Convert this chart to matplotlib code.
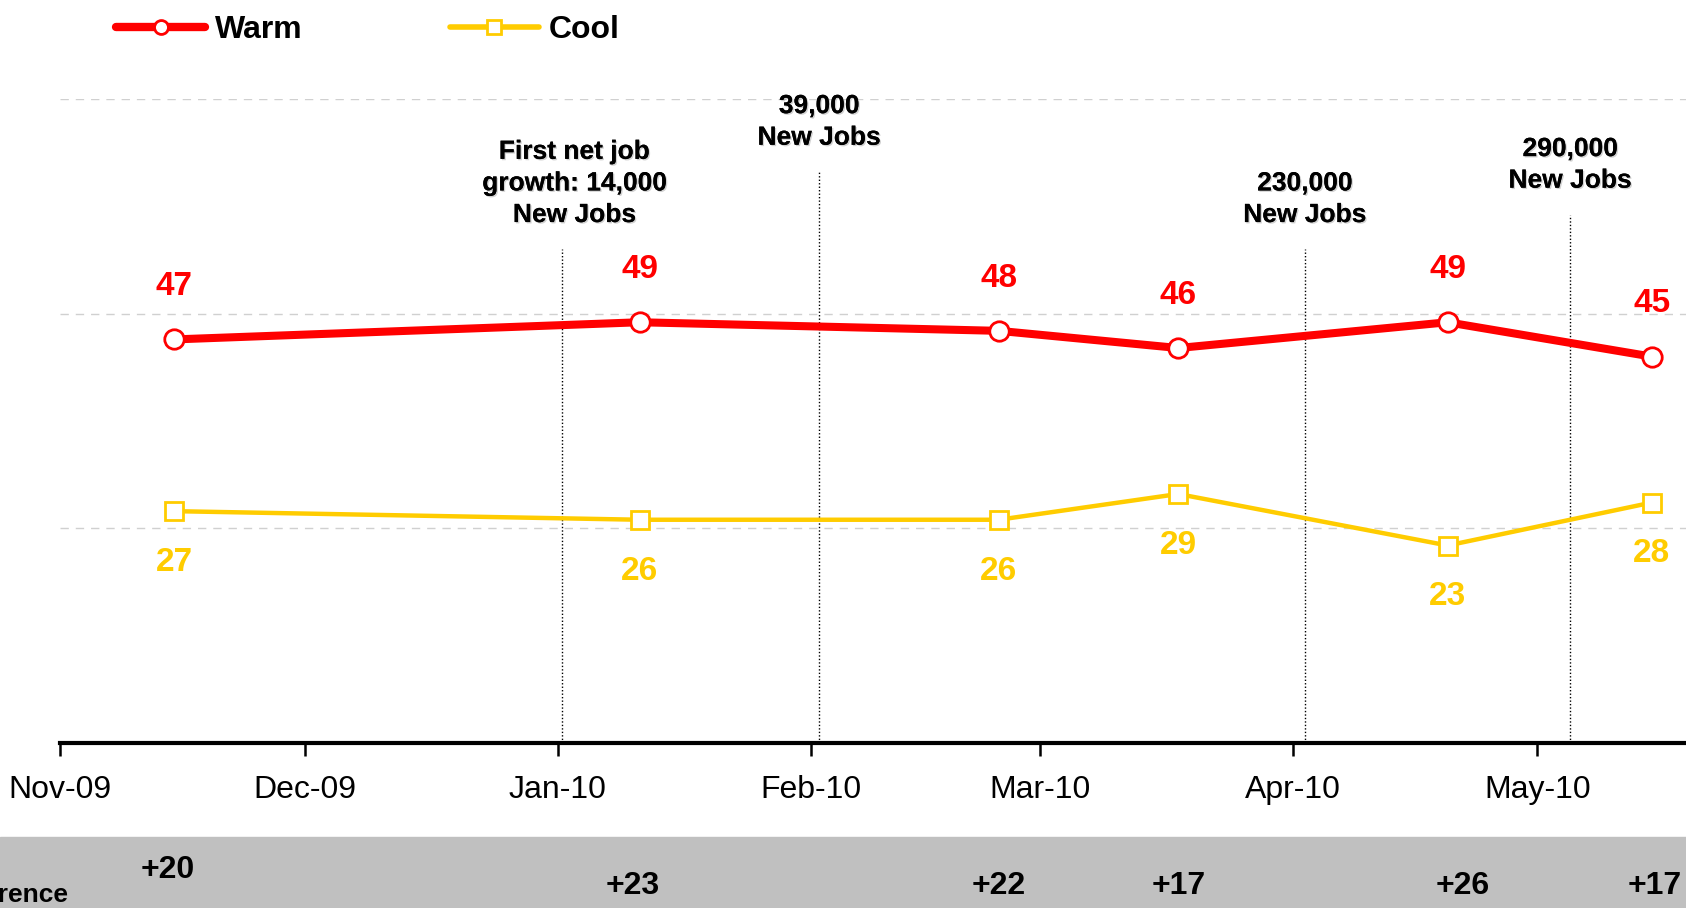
"""Warm vs cool ratings across the 2009-10 jobs reports."""

import matplotlib

matplotlib.use("Agg")
import matplotlib.dates as mdates
import matplotlib.patheffects as pe
import matplotlib.pyplot as plt
import matplotlib.transforms as mtransforms
import numpy as np
from matplotlib.lines import Line2D
from matplotlib.patches import Rectangle

survey_dates = np.array(
    ["2009-11-15", "2010-01-11", "2010-02-24", "2010-03-18", "2010-04-20", "2010-05-15"],
    dtype="datetime64[D]",
)
warm = [47, 49, 48, 46, 49, 45]
cool = [27, 26, 26, 29, 23, 28]
difference = ["+20", "+23", "+22", "+17", "+26", "+17"]

event_dates = np.array(
    ["2010-01-01T12", "2010-02-02", "2010-04-02T12", "2010-05-05"], dtype="datetime64[h]"
)
event_labels = [
    "First net job\ngrowth: 14,000\nNew Jobs",
    "39,000\nNew Jobs",
    "230,000\nNew Jobs",
    "290,000\nNew Jobs",
]

RED = "#FF0000"
YELLOW = "#FFCC00"
SANS = ["Liberation Sans", "DejaVu Sans"]

# layout (not data): how far each dotted line rises, text x-shift in points
event_tops = [57.5, 66.5, 57.5, 61.5]
event_dx = [9, 0, 0, 0]
diff_dx = [-5, -5, 0, 0, 11, 2]

W, H = 1686, 908
fig = plt.figure(figsize=(W / 100, H / 100), dpi=100)
ax = fig.add_axes([60 / W, 165 / H, 1 - 60 / W, 644 / H])

# grey band holding the difference row
fig.patches.append(
    Rectangle((0, 0), 1, 71 / H, transform=fig.transFigure, color="#C0C0C0", zorder=0)
)

x0 = mdates.date2num(np.datetime64("2009-11-01"))
ax.set_xlim(x0, x0 + 199.2)
ax.set_ylim(0, 75)

ax.set_yticks([25, 50, 75])
ax.yaxis.grid(True, linestyle=(0, (6, 5)), color="#D0D0D0", linewidth=1)
ax.tick_params(axis="y", length=0, labelleft=False)
for side in ("top", "right", "left"):
    ax.spines[side].set_visible(False)
ax.spines["bottom"].set_linewidth(3)

ax.xaxis.set_major_locator(mdates.MonthLocator())
ax.xaxis.set_major_formatter(mdates.DateFormatter("%b-%y"))
ax.tick_params(axis="x", direction="out", length=9, width=1.8, pad=14, labelsize=23)
for lbl in ax.get_xticklabels():
    lbl.set_family(SANS)

ax.vlines(event_dates, 0, event_tops, colors="black", linewidth=1, linestyles=(0, (1, 1.5)))
shadow = [pe.withSimplePatchShadow(offset=(1, -1), alpha=0.35, shadow_rgbFace="gray"), pe.Normal()]
for d, top, dx, text in zip(event_dates, event_tops, event_dx, event_labels):
    ax.annotate(
        text, (mdates.date2num(d), top), xytext=(dx, 16), textcoords="offset points",
        ha="center", va="bottom", multialignment="center", fontsize=19,
        fontweight="bold", family=SANS, linespacing=1.4, path_effects=shadow,
    )

ax.plot(survey_dates, warm, color=RED, linewidth=5.8, marker="o", markersize=14,
        markerfacecolor="white", markeredgecolor=RED, markeredgewidth=2, zorder=4, clip_on=False)
ax.plot(survey_dates, cool, color=YELLOW, linewidth=3.2, marker="s", markersize=13,
        markerfacecolor="white", markeredgecolor=YELLOW, markeredgewidth=2, zorder=4, clip_on=False)

for d, v in zip(survey_dates, warm):
    ax.annotate(str(v), (mdates.date2num(d), v), xytext=(0, 38), textcoords="offset points",
                ha="center", va="center", color=RED, fontsize=24, fontweight="bold", family=SANS)
for d, v in zip(survey_dates, cool):
    ax.annotate(str(v), (mdates.date2num(d), v), xytext=(0, -37), textcoords="offset points",
                ha="center", va="center", color=YELLOW, fontsize=24, fontweight="bold", family=SANS)

band = mtransforms.blended_transform_factory(ax.transData, fig.transFigure)
for i, (d, text) in enumerate(zip(survey_dates, difference)):
    y = (H - 870) / H if i == 0 else (H - 886) / H
    shift = mtransforms.offset_copy(band, fig=fig, x=diff_dx[i], y=0, units="points")
    fig.text(mdates.date2num(d), y, text, transform=shift, ha="center", va="center",
             fontsize=23, fontweight="bold", family=SANS)
fig.text(68 / W, (H - 902) / H, "Difference", ha="right", va="baseline",
         fontsize=19, fontweight="bold", family=SANS)

handles = [
    Line2D([], [], color=RED, linewidth=6, solid_capstyle="round", marker="o", markersize=10,
           markerfacecolor="white", markeredgecolor=RED, markeredgewidth=2),
    Line2D([], [], color=YELLOW, linewidth=4, solid_capstyle="round", marker="s", markersize=10,
           markerfacecolor="white", markeredgecolor=YELLOW, markeredgewidth=2),
]
fig.legend(handles, ["Warm", "Cool"], loc="center left", bbox_to_anchor=(116 / W, 1 - 30 / H),
           ncol=2, frameon=False, borderpad=0, borderaxespad=0, handlelength=2.8,
           handletextpad=0.3, columnspacing=4.6,
           prop={"family": SANS, "weight": "bold", "size": 23})

fig.savefig("out.png", dpi=100)
